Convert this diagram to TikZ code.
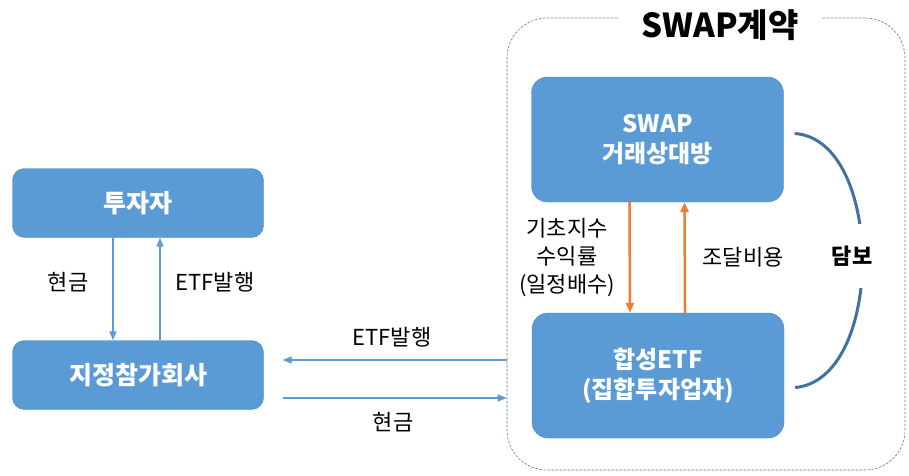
\documentclass[tikz,border=0pt]{standalone}
\usepackage{fontspec}
\setmainfont{Noto Sans CJK KR}
\usetikzlibrary{arrows.meta,calc}
\definecolor{boxblue}{HTML}{5B9BD5}
\definecolor{edgeblue}{HTML}{4A85BE}
\definecolor{orangeline}{HTML}{ED7D31}
\definecolor{curveblue}{HTML}{41719C}
\definecolor{framegray}{HTML}{5E7A99}
\begin{document}
\begin{tikzpicture}
   [x=1pt, y=-1pt,
   actorbox/.style={rectangle, rounded corners=12pt, draw=edgeblue, fill=boxblue, text=white, align=center, font=\bfseries\fontsize{25}{30}\selectfont, minimum width=251pt, minimum height=69pt},
   swapbox/.style={actorbox, rounded corners=16pt, font=\bfseries\fontsize{24}{30}\selectfont, minimum width=252pt, minimum height=125pt},
   flowlabel/.style={align=center, inner sep=0pt, font=\fontsize{22}{28}\selectfont},
   blueflow/.style={draw=boxblue, line width=1.5pt, -{Triangle[length=9pt,width=7pt]}},
   orangeflow/.style={draw=orangeline, line width=2.5pt, -{Triangle[length=10pt,width=8pt]}},
   swapframe/.style={rectangle, rounded corners=40pt, draw=framegray, line width=0.6pt, dash pattern=on 2.5pt off 1.5pt, minimum width=398pt, minimum height=452pt},
   titlebox/.style={rectangle, fill=white, inner xsep=22pt, inner ysep=2pt, font=\bfseries\fontsize{33}{38}\selectfont},
   ]
 \useasboundingbox (0,0) rectangle (909,475);
 \node at (706,244) [swapframe] (frame) {};
 \node at (720,25) [titlebox] (title) {SWAP계약};
 \node at (138,203) [actorbox] (investor) {투자자};
 \node at (138,375) [actorbox] (ap) {지정참가회사};
 \node at (657.5,139.5) [swapbox] (cpty) {SWAP\\거래상대방};
 \node at (658,375.5) [swapbox] (synth) {합성ETF\\(집합투자업자)};
 \draw[blueflow] ($(investor.south)+(-25,0)$) -- ($(ap.north)+(-25,0)$);
 \draw[blueflow] ($(ap.north)+(22,0)$) -- ($(investor.south)+(22,0)$);
 \draw[blueflow] ($(ap.east -| frame.west)+(0,-15)$) -- ($(ap.east)+(19,-15)$);
 \draw[blueflow] ($(ap.east)+(19,23)$) -- ($(ap.east -| frame.west)+(0,23)$);
 \draw[orangeflow] ($(cpty.south)+(-28,0)$) -- ($(synth.north)+(-28,0)$);
 \draw[orangeflow] ($(synth.north)+(27,0)$) -- ($(cpty.south)+(27,0)$);
 \draw[curveblue, line width=3pt] ($(cpty.east)+(11,-6)$) .. controls ($(cpty.east)+(101,0)$) and ($(synth.east)+(101,4)$) .. ($(synth.east)+(11,12)$);
 \node at (68,282) [flowlabel] (cashdown) {현금};
 \node at (215,282) [flowlabel] (etfup) {ETF발행};
 \node at (392,337) [flowlabel] (etfleft) {ETF발행};
 \node at (393,422) [flowlabel] (cashright) {현금};
 \node at (567,258) [flowlabel] (index) {기초지수\\수익률\\(일정배수)};
 \node at (743,257) [flowlabel] (funding) {조달비용};
 \node at (852,256) [flowlabel, fill=white, inner ysep=22pt, inner xsep=3pt, font=\bfseries\fontsize{22}{26}\selectfont] (collateral) {담보};
\end{tikzpicture}
\end{document}
